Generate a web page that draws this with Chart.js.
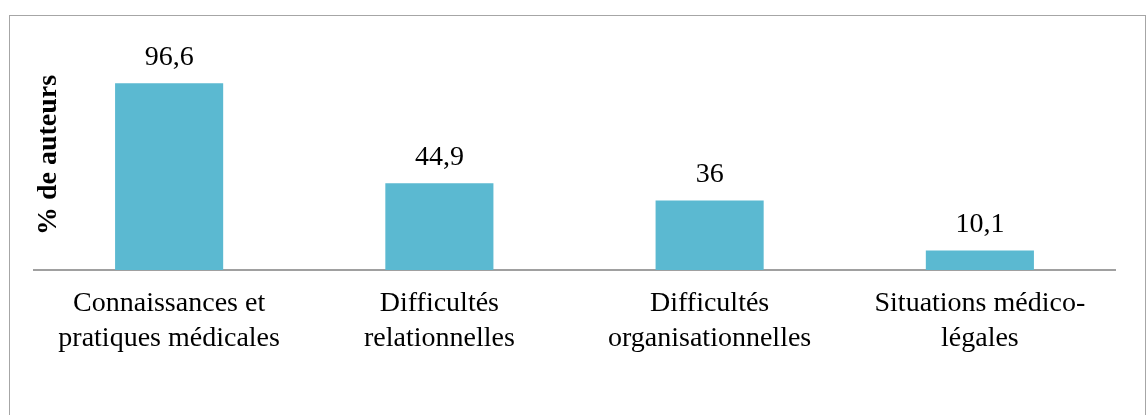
<!DOCTYPE html>
<html>
<head>
<meta charset="utf-8">
<script src="https://cdn.jsdelivr.net/npm/chart.js@4/dist/chart.umd.min.js"></script>
<style>
  html, body { margin: 0; padding: 0; background: #fff; }
  #frame {
    position: absolute; left: 9px; top: 15px;
    width: 1137px; height: 420px;
    box-sizing: border-box; border: 1px solid #a6a6a6;
  }
  #chart { position: absolute; left: 0; top: 0; }
</style>
</head>
<body>
<div id="frame"></div>
<canvas id="chart" width="1147" height="415"></canvas>
<script>
const categories = [
    ['Connaissances et', 'pratiques médicales'],
    ['Difficultés', 'relationnelles'],
    ['Difficultés', 'organisationnelles'],
    ['Situations médico-', 'légales']
];
const values = [96.6, 44.9, 36, 10.1];
const yTitle = '% de auteurs';

const serif = '"Liberation Serif", "DejaVu Serif", serif';

// value labels above each bar
const barLabels = {
    id: 'barLabels',
    afterDatasetsDraw(chart) {
        const ctx = chart.ctx;
        const meta = chart.getDatasetMeta(0);
        ctx.save();
        ctx.font = '28px ' + serif;
        ctx.fillStyle = '#000';
        ctx.textAlign = 'center';
        ctx.textBaseline = 'alphabetic';
        meta.data.forEach((bar, i) => {
            ctx.fillText(String(values[i]).replace('.', ','), bar.x, bar.y - 18);
        });
        ctx.restore();
    }
};

// rotated axis title, sits inside the plot on the left
const axisTitle = {
    id: 'axisTitle',
    afterDraw(chart) {
        const ctx = chart.ctx;
        ctx.save();
        ctx.translate(49, 155);
        ctx.rotate(-Math.PI / 2);
        ctx.font = 'bold 28px ' + serif;
        ctx.fillStyle = '#000';
        ctx.textAlign = 'center';
        ctx.textBaseline = 'middle';
        ctx.fillText(yTitle, 0, 0);
        ctx.restore();
    }
};

new Chart(document.getElementById('chart').getContext('2d'), {
    type: 'bar',
    data: {
        labels: categories,
        datasets: [{
            data: values,
            backgroundColor: '#5bb9d1',
            borderWidth: 0,
            categoryPercentage: 1,
            barPercentage: 0.4
        }]
    },
    options: {
        responsive: false,
        animation: false,
        devicePixelRatio: 1,
        layout: { padding: { left: 34, right: 32, top: 38, bottom: 0 } },
        plugins: {
            legend: { display: false },
            tooltip: { enabled: false }
        },
        scales: {
            x: {
                grid: { display: false, drawTicks: false },
                border: { display: true, color: '#a0a0a0', width: 2 },
                ticks: {
                    color: '#000',
                    padding: 17,
                    maxRotation: 0,
                    autoSkip: false,
                    font: { family: serif, size: 28, lineHeight: 1.22 }
                },
                afterFit(scale) { scale.height = 145; }
            },
            y: {
                display: false,
                min: 0,
                max: 120
            }
        }
    },
    plugins: [barLabels, axisTitle]
});
</script>
</body>
</html>
